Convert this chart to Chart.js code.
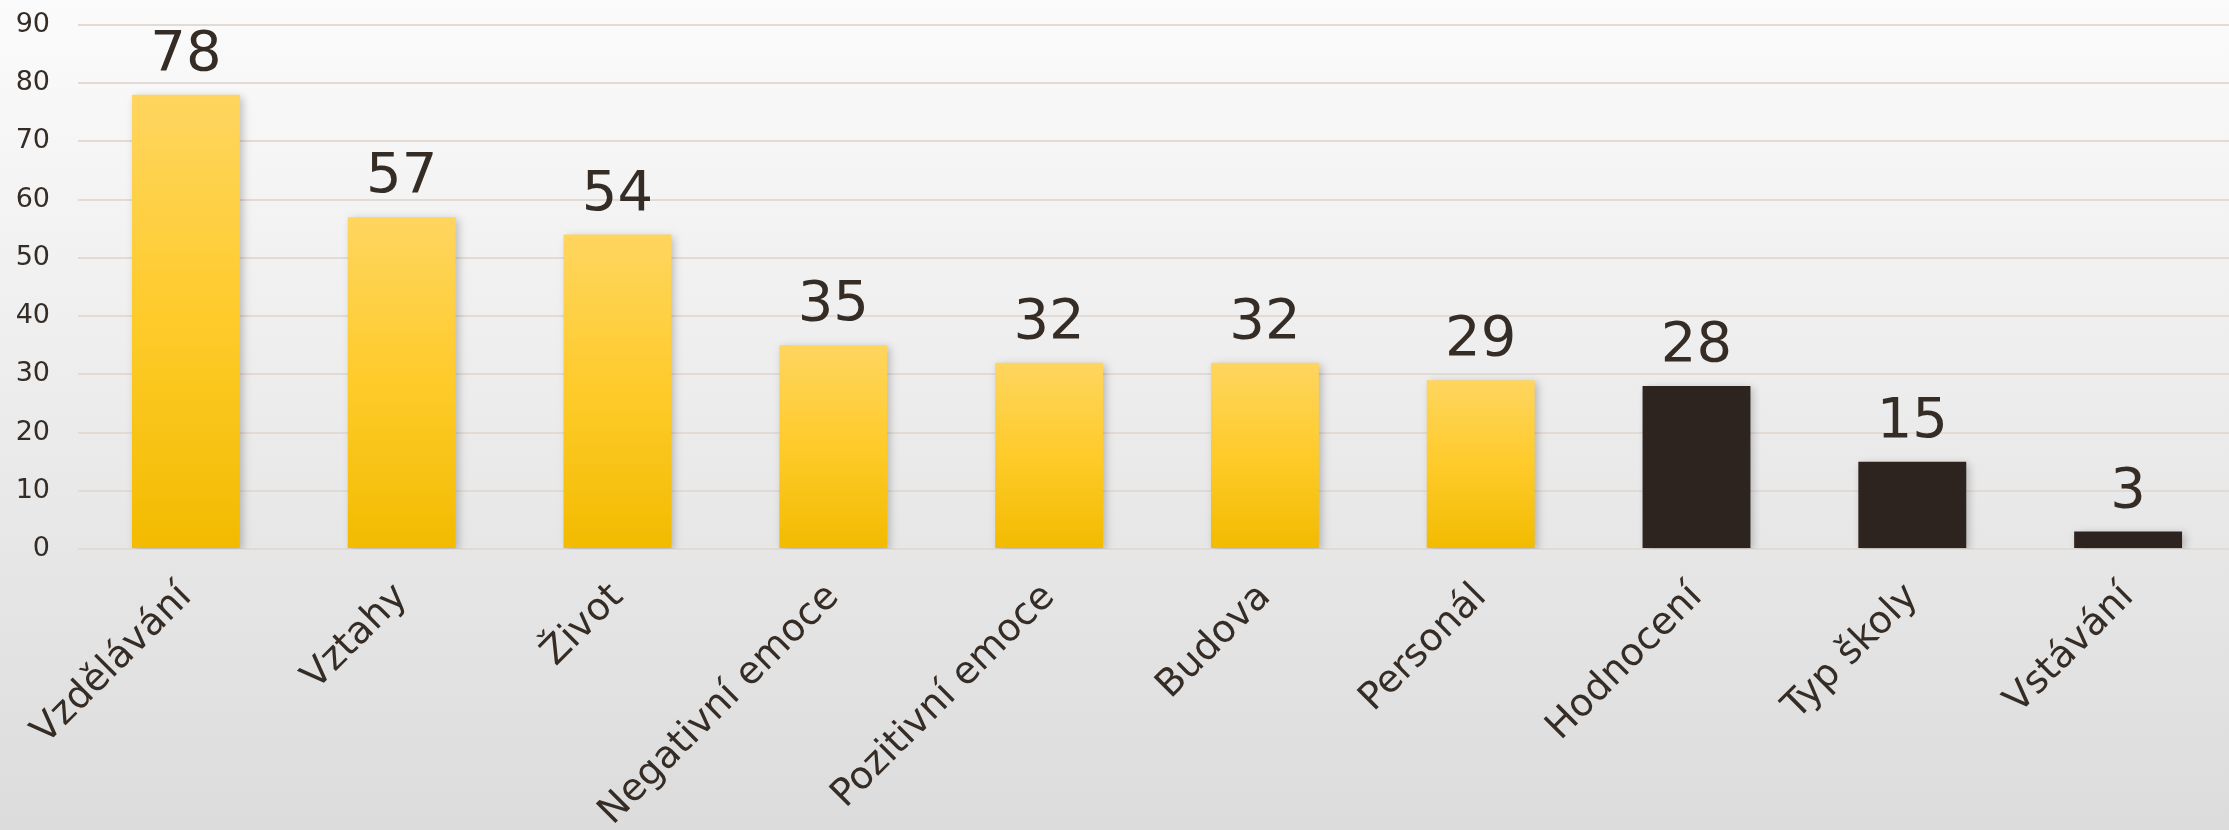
<!DOCTYPE html>
<html>
<head>
<meta charset="utf-8">
<script src="https://cdn.jsdelivr.net/npm/chart.js@4"></script>
<style>
    html, body { margin: 0; padding: 0; overflow: hidden; background: #e6e6e6; }
    #obal { width: 2236px; height: 830px; }
</style>
</head>
<body>
<div id="obal"><canvas id="graf"></canvas></div>
<script>
// Data
var kategorie = ['Vzdělávání', 'Vztahy', 'Život', 'Negativní emoce', 'Pozitivní emoce',
                 'Budova', 'Personál', 'Hodnocení', 'Typ školy', 'Vstávání'];
var hodnoty = [78, 57, 54, 35, 32, 32, 29, 28, 15, 3];
var osaY = [0, 10, 20, 30, 40, 50, 60, 70, 80, 90];

var prvniTmavy = 7; // od tohoto sloupce jsou sloupce tmavé
var barvaTextu = '#352c26';

// pozadí celé plochy
var pozadi = {
    id: 'pozadi',
    beforeDraw: function(chart) {
        var ctx = chart.ctx;
        var g = ctx.createLinearGradient(0, 0, 0, chart.height);
        g.addColorStop(0, '#fbfbfb');
        g.addColorStop(1, '#dcdcdc');
        ctx.save();
        ctx.fillStyle = g;
        ctx.fillRect(0, 0, chart.width, chart.height);
        ctx.restore();
    }
};

// stín sloupců
var stin = {
    id: 'stin',
    beforeDatasetsDraw: function(chart) {
        var ctx = chart.ctx;
        ctx.save();
        ctx.shadowColor = 'rgba(0,0,0,0.22)';
        ctx.shadowBlur = 8;
        ctx.shadowOffsetX = 3;
        ctx.shadowOffsetY = 2;
    },
    afterDatasetsDraw: function(chart) {
        chart.ctx.restore();
    }
};

// popisky hodnot nad sloupci
var popisky = {
    id: 'popisky',
    afterDatasetsDraw: function(chart) {
        var ctx = chart.ctx;
        var meta = chart.getDatasetMeta(0);
        ctx.save();
        ctx.font = '56px "DejaVu Sans"';
        ctx.fillStyle = barvaTextu;
        ctx.textAlign = 'center';
        ctx.textBaseline = 'alphabetic';
        meta.data.forEach(function(bar, i) {
            ctx.fillText(String(hodnoty[i]), bar.x, bar.y - 25);
        });
        ctx.restore();
    }
};

function barvaSloupce(context) {
    if (context.dataIndex >= prvniTmavy) return '#2d241f';
    var chart = context.chart;
    if (!chart.chartArea) return '#fcc72e';
    var y = chart.scales.y;
    var top = y.getPixelForValue(hodnoty[context.dataIndex]);
    var bottom = y.getPixelForValue(0);
    var g = chart.ctx.createLinearGradient(0, top, 0, bottom);
    g.addColorStop(0, '#ffd55f');
    g.addColorStop(0.5, '#fecb2a');
    g.addColorStop(1, '#f2bb00');
    return g;
}

var ctx = document.getElementById('graf').getContext('2d');
var graf = new Chart(ctx, {
    type: 'bar',
    data: {
        labels: kategorie,
        datasets: [{
            data: hodnoty,
            backgroundColor: barvaSloupce,
            borderWidth: 0,
            barPercentage: 0.5,
            categoryPercentage: 1.0
        }]
    },
    options: {
        responsive: true,
        maintainAspectRatio: false,
        animation: false,
        layout: { padding: { top: 25, left: 0, right: 0, bottom: 0 } },
        plugins: {
            legend: { display: false },
            tooltip: { enabled: false }
        },
        scales: {
            x: {
                grid: { display: false, drawTicks: false },
                border: { display: false },
                ticks: {
                    color: barvaTextu,
                    font: { family: 'DejaVu Sans', size: 38 },
                    minRotation: 45,
                    maxRotation: 45,
                    autoSkip: false,
                    padding: 26
                },
                afterFit: function(scale) { scale.height = 281; }
            },
            y: {
                min: 0,
                max: 90,
                afterBuildTicks: function(scale) {
                    scale.ticks = osaY.map(function(v) { return { value: v }; });
                },
                grid: { color: '#e2dad5', lineWidth: 2, drawTicks: false },
                border: { display: false },
                ticks: {
                    color: barvaTextu,
                    font: { family: 'DejaVu Sans', size: 27 },
                    padding: 28
                },
                afterFit: function(scale) {
                    scale.width = 78;
                    scale.paddingTop = 0;
                    scale.paddingBottom = 0;
                }
            }
        }
    },
    plugins: [pozadi, stin, popisky]
});
</script>
</body>
</html>
